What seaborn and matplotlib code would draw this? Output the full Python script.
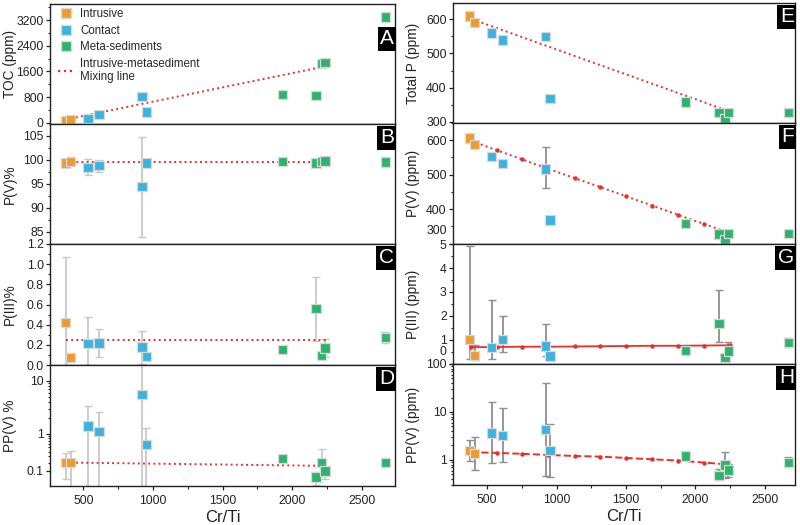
import matplotlib
matplotlib.use('Agg')
import matplotlib.pyplot as plt
import matplotlib.ticker as mticker
from matplotlib.lines import Line2D
import seaborn as sns
import numpy as np
import pandas as pd

sns.set_theme(style='ticks')
plt.rcParams['font.family'] = ['Liberation Sans', 'DejaVu Sans']

# samples (Cr/Ti) and their group
cr_ti = [374, 410, 533, 612, 921, 953, 1930, 2170, 2212, 2236, 2668]
group = ['Intrusive'] * 2 + ['Contact'] * 4 + ['Meta-sediments'] * 5
palette = {'Intrusive': '#ef9a2e', 'Contact': '#3bb3de', 'Meta-sediments': '#2db46c'}

# left column
toc = [70, 90, 136, 260, 825, 340, 877, 856, 1853, 1870, 3296]
pv_pct = [99.3, 99.65, 98.4, 98.75, 94.4, 99.3, 99.6, 99.3, 99.6, 99.7, 99.5]
pv_pct_lo = [99.0, 99.4, 96.8, 97.5, 84.0, 99.0, 99.3, 99.0, 99.3, 99.4, 99.2]
pv_pct_hi = [99.6, 99.9, 100.2, 100.0, 104.6, 99.6, 99.9, 99.6, 99.9, 100.0, 99.8]
piii_pct = [0.424, 0.073, 0.215, 0.22, 0.18, 0.086, 0.155, 0.56, 0.093, 0.17, 0.27]
piii_pct_lo = [0.0, 0.03, 0.0, 0.08, 0.01, 0.07, 0.14, 0.24, 0.08, 0.08, 0.22]
piii_pct_hi = [1.07, 0.12, 0.48, 0.36, 0.34, 0.10, 0.17, 0.87, 0.11, 0.26, 0.33]
ppv_pct = [0.20, 0.20, 1.43, 1.10, 5.58, 0.59, 0.264, 0.043, 0.20, 0.095, 0.20]
ppv_pct_lo = [0.026, -0.05, -0.05, -0.05, -0.05, -0.05, 0.23, -0.01, 0.05, 0.03, 0.15]
ppv_pct_hi = [0.37, 0.41, 3.48, 2.6, 25, 1.29, 0.30, 0.088, 0.45, 0.13, 0.27]

# right column
total_p = [609, 590, 559, 539, 550, 369, 358, 328, 309, 328, 328]
pv_ppm = [607, 587, 552, 532, 516, 368, 358, 328, 310, 329, 329]
pv_ppm_lo = [603, 583, 544, 528, 460, 365, 355, 325, 307, 326, 326]
pv_ppm_hi = [611, 591, 560, 536, 580, 371, 361, 331, 313, 332, 332]
piii_ppm = [1.03, 0.35, 0.68, 1.03, 0.75, 0.34, 0.56, 1.69, 0.28, 0.54, 0.89]
piii_ppm_lo = [0.2, 0.15, 0.2, 0.52, 0.33, 0.3, 0.5, 0.92, 0.25, 0.45, 0.72]
piii_ppm_hi = [4.92, 0.8, 2.65, 2.02, 1.68, 0.4, 0.62, 3.1, 0.32, 0.92, 1.1]
ppv_ppm = [1.57, 1.38, 3.62, 3.24, 4.26, 1.57, 1.21, 0.48, 0.79, 0.62, 0.89]
ppv_ppm_lo = [0.97, 0.63, 0.85, 0.9, 0.47, 0.45, 1.15, 0.38, 0.43, 0.45, 0.7]
ppv_ppm_hi = [2.55, 2.95, 16, 12, 40, 5.7, 1.28, 0.65, 1.45, 0.8, 1.15]

# mixing lines
mix_x_left = [374, 2240]
mix_toc = [100, 1760]
mix_pv_pct = [99.45, 99.45]
mix_piii_pct = [0.25, 0.25]
mix_ppv_pct = [0.20, 0.155]
mix_x_total = [390, 2250]
mix_total_p = [600, 330]
mix_x_right = [385, 570, 755, 940, 1130, 1315, 1500, 1690, 1875, 2060, 2250]
mix_pv_ppm = [598, 571, 544, 517, 490, 464, 437, 410, 383, 357, 330]
mix_piii_ppm = [0.70, 0.71, 0.72, 0.72, 0.73, 0.74, 0.75, 0.76, 0.76, 0.77, 0.78]
mix_ppv_ppm = [1.45, 1.40, 1.34, 1.27, 1.21, 1.17, 1.10, 1.03, 0.97, 0.88, 0.80]

RED = '#e8302a'
TICK_FS = 8.8
W, H = 800, 525
fig = plt.figure(figsize=(8, 5.25), dpi=100)


def rect(x0, x1, y0, y1):
    return [x0 / W, 1 - y1 / H, (x1 - x0) / W, (y1 - y0) / H]


left_rows = [(4, 124), (124, 244), (244, 365), (365, 486)]
right_rows = [(3, 123), (123, 244), (244, 364), (364, 485)]
axL = [fig.add_axes(rect(50, 395, a, b)) for a, b in left_rows]
axR = [fig.add_axes(rect(453, 795, a, b)) for a, b in right_rows]


def draw(ax, y, lo=None, hi=None, ecolor='#c8c8c8'):
    df = pd.DataFrame({'x': cr_ti, 'y': y, 'g': group})
    if lo is not None:
        yv = np.array(y, float)
        err = [yv - np.array(lo, float), np.array(hi, float) - yv]
        ax.errorbar(cr_ti, yv, yerr=err, fmt='none', ecolor=ecolor,
                    elinewidth=1.3, capsize=3, capthick=1.0, zorder=2)
    sns.scatterplot(data=df, x='x', y='y', hue='g', palette=palette, marker='s',
                    s=46, edgecolor='#d8d8d8', linewidth=0.9, legend=False,
                    ax=ax, zorder=3)


def style(ax, letter, ylabel, top=0.965, xlabel=False):
    for s in ax.spines.values():
        s.set_color('#222222')
        s.set_linewidth(1.0)
    ax.tick_params(axis='both', which='both', direction='out', colors='#222222',
                   labelsize=TICK_FS, right=False, top=False)
    ax.tick_params(axis='y', pad=1.5)
    ax.tick_params(which='major', length=3, width=0.9)
    ax.tick_params(which='minor', length=1.8, width=0.8)
    ax.xaxis.set_major_locator(mticker.MultipleLocator(500))
    ax.xaxis.set_minor_locator(mticker.MultipleLocator(250))
    ax.set_ylabel(ylabel, fontsize=9.8, color='#222222')
    ax.yaxis.set_label_coords(-0.097, 0.5)
    if xlabel:
        ax.set_xlabel('Cr/Ti', fontsize=12, color='#222222', labelpad=2)
    else:
        ax.set_xlabel('')
        ax.tick_params(axis='x', labelbottom=False)
    ax.text(0.997, top, letter, transform=ax.transAxes, ha='right', va='top',
            color='white', fontsize=15,
            bbox=dict(boxstyle='square,pad=0.12', fc='black', ec='none'))


def raised_label(ax, value, text, frac):
    # Origin lifts the lowest label above the boundary with the panel below
    ticks = ax.get_yticks()
    labels = ['' if abs(t - value) < 1e-9 else f'{t:g}' for t in ticks]
    ax.set_yticks(ticks, labels)
    ax.text(-0.018, frac, text, transform=ax.transAxes, ha='right', va='center',
            fontsize=TICK_FS, color='#222222')


# A
ax = axL[0]
draw(ax, toc)
ax.plot(mix_x_left, mix_toc, ls=':', color=RED, lw=1.4, zorder=2.5)
ax.set_ylim(-40, 3700)
ax.yaxis.set_major_locator(mticker.MultipleLocator(800))
ax.yaxis.set_minor_locator(mticker.MultipleLocator(400))
style(ax, 'A', 'TOC (ppm)', top=0.79)
handles = [Line2D([], [], marker='s', ls='none', color=palette[k], markeredgecolor='#d8d8d8',
                  markersize=7.5, label=k) for k in palette]
handles.append(Line2D([], [], ls=':', color=RED, lw=1.6,
                      label='Intrusive-metasediment\nMixing line'))
ax.legend(handles=handles, loc='upper left', bbox_to_anchor=(0.0, 1.03), frameon=False,
          fontsize=8.3, handlelength=1.4, handletextpad=0.5, labelspacing=0.38,
          borderaxespad=0.3)

# B
ax = axL[1]
draw(ax, pv_pct, pv_pct_lo, pv_pct_hi)
ax.plot(mix_x_left, mix_pv_pct, ls=':', color=RED, lw=1.4, zorder=2.5)
ax.set_ylim(82.5, 107.4)
ax.yaxis.set_major_locator(mticker.MultipleLocator(5))
ax.yaxis.set_minor_locator(mticker.MultipleLocator(2.5))
style(ax, 'B', 'P(V)%')

# C
ax = axL[2]
draw(ax, piii_pct, piii_pct_lo, piii_pct_hi)
ax.plot(mix_x_left, mix_piii_pct, ls=':', color=RED, lw=1.4, zorder=2.5)
ax.set_ylim(0, 1.2)
ax.yaxis.set_major_locator(mticker.MultipleLocator(0.2))
ax.yaxis.set_minor_locator(mticker.MultipleLocator(0.1))
ax.yaxis.set_major_formatter(mticker.FormatStrFormatter('%.1f'))
style(ax, 'C', 'P(III)%')

# D
ax = axL[3]
draw(ax, ppv_pct, ppv_pct_lo, ppv_pct_hi)
ax.plot(mix_x_left, mix_ppv_pct, ls=':', color=RED, lw=1.4, zorder=2.5)
ax.set_yscale('function', functions=(lambda v: np.log10(np.clip(np.asarray(v) + 0.15, 1e-6, None)),
                                     lambda u: 10 ** np.asarray(u) - 0.15))
ax.set_ylim(-0.017, 19.3)
ax.yaxis.set_major_locator(mticker.FixedLocator([0.1, 1, 10]))
ax.yaxis.set_major_formatter(mticker.FixedFormatter(['0.1', '1', '10']))
ax.yaxis.set_minor_locator(mticker.FixedLocator([0.2, 0.3, 0.4, 0.5, 0.6, 0.7, 0.8, 0.9,
                                                 2, 3, 4, 5, 6, 7, 8, 9]))
ax.yaxis.set_minor_formatter(mticker.NullFormatter())
style(ax, 'D', 'PP(V) %', xlabel=True)

# E
ax = axR[0]
draw(ax, total_p)
ax.plot(mix_x_total, mix_total_p, ls=':', color=RED, lw=1.4, zorder=2.5)
ax.set_ylim(297, 647)
ax.yaxis.set_major_locator(mticker.MultipleLocator(100))
ax.yaxis.set_minor_locator(mticker.MultipleLocator(50))
style(ax, 'E', 'Total P (ppm)')

# F
ax = axR[1]
draw(ax, pv_ppm, pv_ppm_lo, pv_ppm_hi, ecolor='#8f8f8f')
ax.plot(mix_x_right, mix_pv_ppm, ls=':', color=RED, lw=1.4, marker='o', ms=2.2, zorder=2.5)
ax.set_ylim(298.6, 650)
ax.set_yticks([300, 400, 500, 600])
ax.yaxis.set_minor_locator(mticker.MultipleLocator(50))
style(ax, 'F', 'P(V) (ppm)')
raised_label(ax, 300, '300', 0.105)

# G
ax = axR[2]
draw(ax, piii_ppm, piii_ppm_lo, piii_ppm_hi, ecolor='#8f8f8f')
ax.plot(mix_x_right, mix_piii_ppm, ls='-', color=RED, lw=1.3, marker='o', ms=2.2, zorder=2.5)
ax.set_ylim(0, 5)
ax.set_yticks([0, 1, 2, 3, 4, 5])
ax.yaxis.set_minor_locator(mticker.MultipleLocator(0.5))
style(ax, 'G', 'P(III) (ppm)')
raised_label(ax, 0, '0', 0.1)

# H
ax = axR[3]
draw(ax, ppv_ppm, ppv_ppm_lo, ppv_ppm_hi, ecolor='#8f8f8f')
ax.plot(mix_x_right, mix_ppv_ppm, ls='--', color=RED, lw=1.4, marker='o', ms=2.2, zorder=2.5)
ax.set_yscale('log')
ax.set_ylim(0.3, 100)
ax.yaxis.set_major_locator(mticker.FixedLocator([1, 10, 100]))
ax.yaxis.set_major_formatter(mticker.FixedFormatter(['1', '10', '100']))
ax.yaxis.set_minor_locator(mticker.LogLocator(base=10, subs=np.arange(2, 10)))
ax.yaxis.set_minor_formatter(mticker.NullFormatter())
style(ax, 'H', 'PP(V) (ppm)', xlabel=True)

for ax in axL:
    ax.set_xlim(261, 2738)
for ax in axR:
    ax.set_xlim(255, 2716)

fig.savefig('out.png', dpi=100)
